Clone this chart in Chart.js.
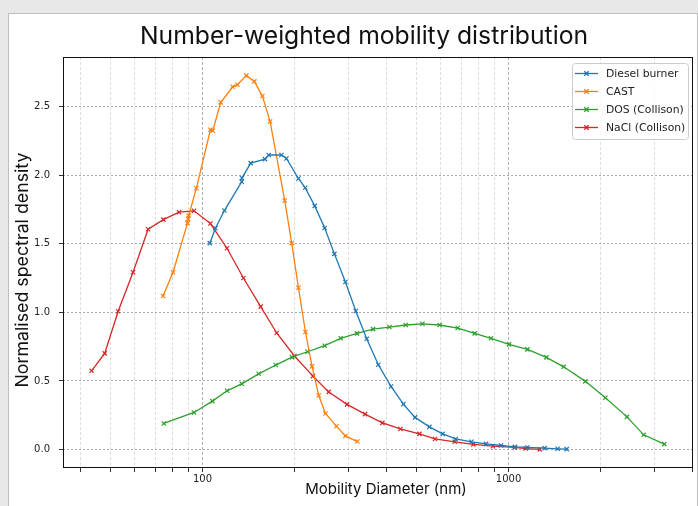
<!DOCTYPE html>
<html lang="en">
<head>
  <meta charset="UTF-8" />
  <title>Number-weighted mobility distribution</title>
  <script src="https://cdn.jsdelivr.net/npm/chart.js"></script>
  <style>
    html, body { margin: 0; padding: 0; background: #e8e8e8; }
    body { width: 698px; height: 506px; position: relative; overflow: hidden; }
    #panel {
      position: absolute; left: 8px; top: 13px; width: 690px; height: 500px;
      background: #fff; border: 1px solid #bdbdbd; box-sizing: border-box;
    }
    #chart { position: absolute; left: 0; top: 0; }
  </style>
</head>
<body>
  <div id="panel"></div>
  <canvas id="chart" width="698" height="506"></canvas>

  <script>
    // mobility diameter (nm) and normalised density for each aerosol
    const dieselX = [105.6, 110.2, 117.9, 134.3, 134.5, 143.7, 160.0, 164.5, 181.1, 188.0, 205.8, 216.5, 232.6, 250.7, 269.7, 293.0, 316.7, 343.9, 375.3, 412.8, 453.2, 494.6, 551.2, 609.0, 671.8, 755.8, 843.7, 944.6, 1049, 1152, 1312, 1447, 1548];
    const dieselY = [1.505, 1.614, 1.743, 1.953, 1.980, 2.089, 2.118, 2.148, 2.148, 2.123, 1.977, 1.909, 1.777, 1.616, 1.427, 1.222, 1.010, 0.808, 0.618, 0.460, 0.331, 0.234, 0.165, 0.114, 0.077, 0.056, 0.041, 0.029, 0.019, 0.015, 0.010, 0.005, 0.003];

    const castX = [74.3, 80.1, 89.3, 89.7, 90.1, 95.5, 106.1, 108.0, 114.7, 125.5, 130.0, 139.1, 147.7, 156.9, 166.2, 185.6, 195.6, 205.8, 216.9, 227.9, 239.7, 252.1, 273.8, 293.0, 320.6];
    const castY = [1.120, 1.293, 1.651, 1.682, 1.706, 1.906, 2.332, 2.325, 2.532, 2.646, 2.661, 2.727, 2.685, 2.578, 2.393, 1.816, 1.505, 1.180, 0.857, 0.606, 0.394, 0.263, 0.170, 0.099, 0.058];

    const dosX = [74.7, 93.8, 107.7, 120.2, 134.3, 152.6, 173.4, 196.1, 220.2, 250.7, 282.8, 319.7, 360.6, 408.0, 461.3, 523.0, 595.5, 682.0, 774.9, 876.2, 1003, 1152, 1329, 1514, 1782, 2072, 2437, 2763, 3228];
    const dosY = [0.190, 0.270, 0.353, 0.428, 0.479, 0.552, 0.616, 0.674, 0.713, 0.757, 0.811, 0.847, 0.878, 0.893, 0.908, 0.917, 0.908, 0.886, 0.847, 0.811, 0.767, 0.730, 0.672, 0.603, 0.497, 0.377, 0.238, 0.107, 0.039];

    const naclX = [43.4, 47.9, 53.0, 59.3, 66.4, 74.5, 83.8, 93.8, 106.1, 120.2, 136.0, 154.9, 174.7, 199.6, 229.6, 258.4, 296.6, 339.6, 387.0, 443.1, 511.2, 574.9, 666.8, 767.4, 889.2, 1049, 1137, 1264];
    const naclY = [0.574, 0.701, 1.008, 1.293, 1.607, 1.677, 1.731, 1.741, 1.648, 1.468, 1.251, 1.042, 0.850, 0.682, 0.535, 0.420, 0.329, 0.258, 0.194, 0.150, 0.114, 0.077, 0.056, 0.037, 0.024, 0.015, 0.007, 0.001];

    const labels = ['Diesel burner', 'CAST', 'DOS (Collison)', 'NaCl (Collison)'];
    const colors = ['#1f77b4', '#ff7f0e', '#2ca02c', '#d62728'];

    // axis ticks (log x: gridline at every minor decade step, labels only at 100 / 1000)
    const xTickValues = [40, 50, 60, 70, 80, 90, 100, 200, 300, 400, 500, 600, 700, 800, 900, 1000, 2000, 3000, 4000];
    const xLabelValues = [100, 1000];
    const yTickValues = [0, 0.5, 1.0, 1.5, 2.0, 2.5];
    const xMin = 35, xMax = 4005;
    const yMin = -0.135, yMax = 2.863;

    const titleText = 'Number-weighted mobility distribution';
    const xTitle = 'Mobility Diameter (nm)';
    const yTitle = 'Normalised spectral density';

    const toPoints = (xs, ys) => xs.map((x, i) => ({ x: x, y: ys[i] }));
    const seriesData = [toPoints(dieselX, dieselY), toPoints(castX, castY), toPoints(dosX, dosY), toPoints(naclX, naclY)];

    // frame, titles and a matplotlib-like legend box in the top right corner
    const framePlugin = {
      id: 'frame',
      afterDraw(chart) {
        const { ctx, chartArea: a } = chart;
        ctx.save();
        ctx.strokeStyle = '#111';
        ctx.lineWidth = 1;
        ctx.strokeRect(a.left + 0.5, a.top + 0.5, a.right - a.left - 1, a.bottom - a.top - 1);

        // titles
        ctx.fillStyle = '#111';
        ctx.textAlign = 'center';
        ctx.textBaseline = 'alphabetic';
        ctx.font = '24.7px Inter';
        ctx.fillText(titleText, 364, 43.5);
        ctx.font = '15px Inter';
        ctx.fillText(xTitle, 386, 493.5);
        ctx.save();
        ctx.translate(23, 270);
        ctx.rotate(-Math.PI / 2);
        ctx.font = '17.8px Inter';
        ctx.textBaseline = 'middle';
        ctx.fillText(yTitle, 0, 0);
        ctx.restore();

        // legend
        const bw = 116, bh = 76;
        const bx = a.right - 5 - bw, by = a.top + 6;
        ctx.beginPath();
        ctx.roundRect(bx + 0.5, by + 0.5, bw, bh, 3);
        ctx.fillStyle = 'rgba(255,255,255,0.85)';
        ctx.fill();
        ctx.strokeStyle = '#cccccc';
        ctx.stroke();

        ctx.textAlign = 'left';
        chart.data.datasets.forEach((ds, i) => {
          const yy = by + 10.5 + i * 18;
          ctx.strokeStyle = ds.borderColor;
          ctx.lineWidth = 1.3;
          ctx.beginPath();
          ctx.moveTo(bx + 3, yy);
          ctx.lineTo(bx + 26, yy);
          ctx.stroke();
          const cx = bx + 14.5, r = 2.2;
          ctx.beginPath();
          ctx.moveTo(cx - r, yy - r); ctx.lineTo(cx + r, yy + r);
          ctx.moveTo(cx - r, yy + r); ctx.lineTo(cx + r, yy - r);
          ctx.stroke();
          ctx.fillStyle = '#222';
          ctx.font = '10.8px "DejaVu Sans"';
          ctx.textBaseline = 'middle';
          ctx.fillText(ds.label, bx + 34, yy + 0.5);
        });
        ctx.restore();
      }
    };

    const ctx = document.getElementById('chart').getContext('2d');
    new Chart(ctx, {
      type: 'line',
      data: {
        datasets: seriesData.map((pts, i) => ({
          label: labels[i],
          data: pts,
          borderColor: colors[i],
          backgroundColor: colors[i],
          borderWidth: 1.3,
          pointStyle: 'crossRot',
          pointRadius: 3,
          pointHoverRadius: 3,
          pointBorderWidth: 1.2,
          fill: false,
          tension: 0
        }))
      },
      options: {
        responsive: false,
        animation: false,
        events: [],
        layout: { padding: { left: 0, right: 5, top: 57, bottom: 0 } },
        plugins: {
          legend: { display: false },
          tooltip: { enabled: false },
          title: { display: false }
        },
        scales: {
          x: {
            type: 'logarithmic',
            min: xMin,
            max: xMax,
            afterBuildTicks: s => { s.ticks = xTickValues.map(v => ({ value: v })); },
            afterFit: s => { s.height = 38; },
            ticks: {
              autoSkip: false,
              maxRotation: 0,
              color: '#222',
              padding: 1,
              font: { family: 'DejaVu Sans', size: 10 },
              callback: v => xLabelValues.includes(v) ? String(v) : ''
            },
            grid: {
              color: c => (c.tick && xLabelValues.includes(c.tick.value)) ? '#b0b0b0' : '#dcdcdc',
              lineWidth: 1,
              tickLength: 4,
              tickColor: '#333'
            },
            border: { display: false, dash: [3, 2] }
          },
          y: {
            type: 'linear',
            min: yMin,
            max: yMax,
            afterBuildTicks: s => { s.ticks = yTickValues.map(v => ({ value: v })); },
            afterFit: s => { s.width = 63; },
            ticks: {
              color: '#222',
              padding: 9,
              font: { family: 'DejaVu Sans', size: 10 },
              callback: v => v.toFixed(1)
            },
            grid: { color: '#aaaaaa', lineWidth: 1, tickLength: 4, tickColor: '#333' },
            border: { display: false, dash: [2, 2] }
          }
        }
      },
      plugins: [framePlugin]
    });
  </script>
</body>
</html>
